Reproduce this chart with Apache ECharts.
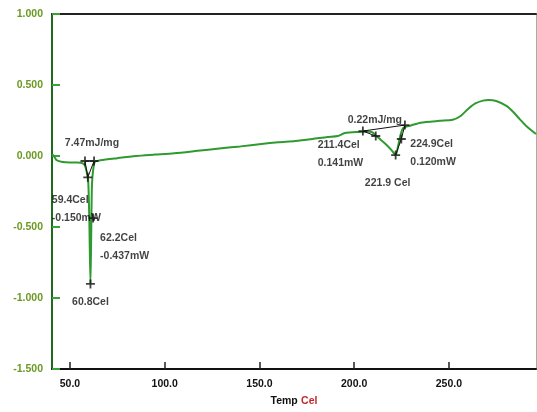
<!DOCTYPE html>
<html>
<head>
<meta charset="utf-8">
<style>
  html, body { margin: 0; padding: 0; background: #fff; }
  #chart { width: 537px; height: 412px; }
</style>
<script src="https://cdn.jsdelivr.net/npm/echarts@6/dist/echarts.min.js"></script>
</head>
<body>
<div id="chart"></div>
<script>
// DSC heat-flow trace: temperature (Cel) against heat flow
const temps = [40.5, 41.5, 43, 46, 50, 54, 56.5, 57.8, 58.8, 59.6, 60.2, 60.8, 61.2, 61.6, 62.3, 63.2,
  66, 75, 85, 95, 105, 116, 130, 140, 151, 160, 169, 178, 186, 191.4, 195.1, 203, 207, 209.5,
  211.4, 214, 217, 219.5, 221.9, 223.2, 224.5, 226, 230, 235, 245, 252, 256, 260, 264, 268, 271,
  275, 280.6, 284, 287.4, 291, 296];
const heatFlow = [0.012, 0.0, -0.03, -0.042, -0.045, -0.045, -0.05, -0.065, -0.11, -0.17, -0.45, -0.90, -0.55, -0.2, -0.09, -0.04,
  -0.03, -0.015, 0.0, 0.01, 0.02, 0.035, 0.055, 0.068, 0.085, 0.097, 0.106, 0.12, 0.134, 0.141, 0.162, 0.17, 0.172, 0.168,
  0.145, 0.115, 0.08, 0.045, 0.007, 0.07, 0.15, 0.2, 0.215, 0.235, 0.248, 0.255, 0.28, 0.33, 0.37, 0.39, 0.395,
  0.388, 0.352, 0.31, 0.26, 0.21, 0.155];

// axis ticks
const xTicks = [50, 100, 150, 200, 250];
const yRange = [-1.5, 1.0];

// peak-analysis construction lines
const peak1Lines = [
  [[57.9, -0.035], [62.7, -0.035]],
  [[57.9, -0.035], [59.4, -0.150], [62.7, -0.035]]
];
const peak2Lines = [
  [[204.6, 0.176], [226.8, 0.218]],
  [[226.8, 0.218], [224.9, 0.120], [221.9, 0.007]],
  [[204.6, 0.176], [211.4, 0.141]]
];

// analysis markers and their readouts
const markT = [57.9, 62.7, 59.4, 62.2, 60.8, 204.6, 211.4, 224.9, 221.9, 226.8];
const markV = [-0.035, -0.035, -0.150, -0.437, -0.90, 0.176, 0.141, 0.120, 0.007, 0.218];
const markText = ['7.47mJ/mg', '', '59.4Cel\n-0.150mW', '62.2Cel\n-0.437mW', '60.8Cel',
  '0.22mJ/mg', '211.4Cel\n0.141mW', '224.9Cel\n0.120mW', '221.9 Cel', ''];

// where each readout sits relative to its marker
const labelPlacement = [
  { align: 'center', verticalAlign: 'middle', offset: [7, -18] },
  null,
  { align: 'left', verticalAlign: 'top', offset: [-36, 14] },
  { align: 'left', verticalAlign: 'top', offset: [7, 11] },
  { align: 'center', verticalAlign: 'top', offset: [0, 9] },
  { align: 'center', verticalAlign: 'middle', offset: [12, -11] },
  { align: 'left', verticalAlign: 'top', offset: [-58, 0] },
  { align: 'left', verticalAlign: 'top', offset: [9, -4] },
  { align: 'center', verticalAlign: 'top', offset: [-8, 19] },
  null
];

const crossPath = 'path://M4,0h2v4h4v2h-4v4h-2v-4h-4v-2h4z';
const fontFamily = 'Liberation Sans, Arial, sans-serif';
const textFont = { fontFamily: fontFamily, fontSize: 10.5, fontWeight: 'bold', color: '#111' };

const curve = temps.map((t, i) => [t, heatFlow[i]]);

const markers = markT.map((t, i) => {
  const p = labelPlacement[i];
  const item = { value: [t, markV[i]] };
  if (p && markText[i]) {
    item.label = Object.assign({
      show: true, position: 'inside', formatter: markText[i], lineHeight: 18
    }, textFont, p);
  } else {
    item.label = { show: false };
  }
  return item;
});

const lineSeries = peak1Lines.concat(peak2Lines).map(seg => ({
  type: 'line',
  data: seg,
  symbol: 'none',
  silent: true,
  animation: false,
  z: 4,
  lineStyle: { color: '#111', width: 1 }
}));

const chart = echarts.init(document.getElementById('chart'), null, { renderer: 'canvas' });
chart.setOption({
  animation: false,
  backgroundColor: '#fff',
  grid: { left: 52, right: 1, top: 14, bottom: 41, show: false },
  xAxis: [{
    type: 'value',
    min: 40.5,
    max: 296,
    name: '{a|Temp} {b|Cel}',
    nameLocation: 'middle',
    nameGap: 25,
    nameTextStyle: {
      rich: {
        a: { fontFamily: fontFamily, fontSize: 10.5, fontWeight: 'bold', color: '#111' },
        b: { fontFamily: fontFamily, fontSize: 10.5, fontWeight: 'bold', color: '#c0282a' }
      }
    },
    axisLine: { show: true, onZero: false, lineStyle: { color: '#111', width: 2 } },
    axisTick: { show: true, inside: true, length: 7, customValues: xTicks, lineStyle: { color: '#222', width: 1.5 } },
    axisLabel: {
      customValues: xTicks, margin: 10,
      formatter: v => v.toFixed(1),
      fontFamily: fontFamily, fontSize: 10.5, fontWeight: 'bold', color: '#111'
    },
    splitLine: { show: false }
  }, {
    type: 'value',
    position: 'top',
    min: 40.5,
    max: 296,
    axisLine: { show: true, onZero: false, lineStyle: { color: '#222', width: 2 } },
    axisTick: { show: false },
    axisLabel: { show: false },
    splitLine: { show: false }
  }],
  yAxis: [{
    type: 'value',
    min: yRange[0],
    max: yRange[1],
    interval: 0.5,
    axisLine: { show: true, onZero: false, lineStyle: { color: '#1e6b1e', width: 2 } },
    axisTick: { show: true, inside: true, length: 8, lineStyle: { color: '#3aa03a', width: 2 } },
    axisLabel: {
      margin: 9,
      formatter: v => v.toFixed(3),
      fontFamily: fontFamily, fontSize: 10.5, fontWeight: 'bold', color: '#6a9a22'
    },
    splitLine: { show: false }
  }, {
    type: 'value',
    position: 'right',
    min: yRange[0],
    max: yRange[1],
    axisLine: { show: true, onZero: false, lineStyle: { color: '#aaa', width: 1 } },
    axisTick: { show: false },
    axisLabel: { show: false },
    splitLine: { show: false }
  }],
  series: [{
    type: 'line',
    data: curve,
    symbol: 'none',
    smooth: 0.25,
    z: 3,
    lineStyle: { color: '#2f9a2f', width: 2 }
  }].concat(lineSeries).concat([{
    type: 'scatter',
    data: markers,
    symbol: crossPath,
    symbolSize: 9,
    z: 5,
    itemStyle: { color: '#111' }
  }])
});
</script>
</body>
</html>
